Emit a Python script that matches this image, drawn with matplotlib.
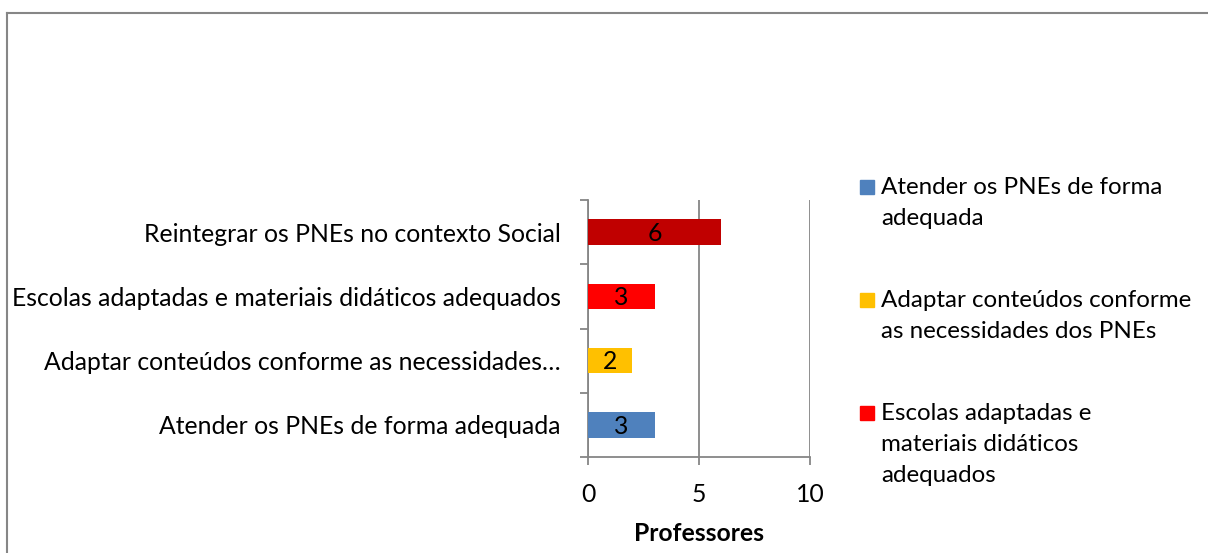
import matplotlib.pyplot as plt
from matplotlib.patches import Rectangle
from matplotlib.lines import Line2D

# === Datos ===
categorias = ["Atender os PNEs de forma adequada",
              "Adaptar conteúdos conforme as necessidades…",
              "Escolas adaptadas e materiais didáticos adequados",
              "Reintegrar os PNEs no contexto Social"]
valores = [3, 2, 3, 6]
colores = ["#4F81BD", "#FFC000", "#FF0000", "#C00000"]
leyenda = ["Atender os PNEs de forma\nadequada",
           "Adaptar conteúdos conforme\nas necessidades dos PNEs",
           "Escolas adaptadas e\nmateriais didáticos\nadequados"]
x_ticks = [0, 5, 10]

plt.rcParams['font.family'] = ['Lato', 'DejaVu Sans']
FS = 17.8
GRAY = "#868686"

fig = plt.figure(figsize=(12.08, 5.53), dpi=100)
ax = fig.add_axes([0.4868, 0.1736, 0.1838, 0.4647])

pos = list(range(len(categorias)))
bars = ax.barh(pos, valores, height=0.4, color=colores, zorder=3)
for b, v in zip(bars, valores):
    ax.text(b.get_width() / 2, b.get_y() + b.get_height() / 2 - 0.02, str(v),
            ha='center', va='center', fontsize=FS, color='black', zorder=4)

# --- Ejes ---
ax.set_xlim(0, 10)
ax.set_ylim(-0.5, len(categorias) - 0.5)
ax.set_xticks(x_ticks)
ax.set_xticklabels([str(t) for t in x_ticks], fontsize=FS)
ax.set_yticks(pos)
ax.set_yticklabels(categorias, fontsize=FS)
ax.tick_params(axis='y', length=0, pad=19.5)
ax.set_yticks([p - 0.5 for p in pos] + [len(categorias) - 0.5], minor=True)
ax.tick_params(axis='y', which='minor', length=5.5, width=1.3, color=GRAY)
ax.tick_params(axis='x', length=6, width=1.3, color=GRAY, pad=13)
ax.grid(axis='x', color=GRAY, lw=1.3, zorder=1)
for s in ['top', 'right']:
    ax.spines[s].set_visible(False)
for s in ['left', 'bottom']:
    ax.spines[s].set_color(GRAY)
    ax.spines[s].set_linewidth(1.3)
ax.set_xlabel("Professores", fontsize=FS, fontweight='bold', labelpad=11)

# --- Leyenda (manual) ---
y0 = 1 - 187 / 553
paso = 113 / 553
for i, (lab, c) in enumerate(zip(leyenda, colores)):
    yc = y0 - i * paso
    fig.patches.append(Rectangle((860 / 1208, yc - 7 / 553), 14 / 1208, 14 / 553,
                                 transform=fig.transFigure, color=c))
    fig.text(881 / 1208, yc + 10 / 553, lab, fontsize=17.4, va='top', ha='left',
             linespacing=1.58)

# --- Borde ---
fig.lines.append(Line2D([6.5 / 1208, 6.5 / 1208], [0, 1 - 12.5 / 553],
                        transform=fig.transFigure, color=GRAY, lw=1.5))
fig.lines.append(Line2D([6.5 / 1208, 1], [1 - 12.5 / 553, 1 - 12.5 / 553],
                        transform=fig.transFigure, color=GRAY, lw=1.5))

fig.savefig("out.png", dpi=100)
